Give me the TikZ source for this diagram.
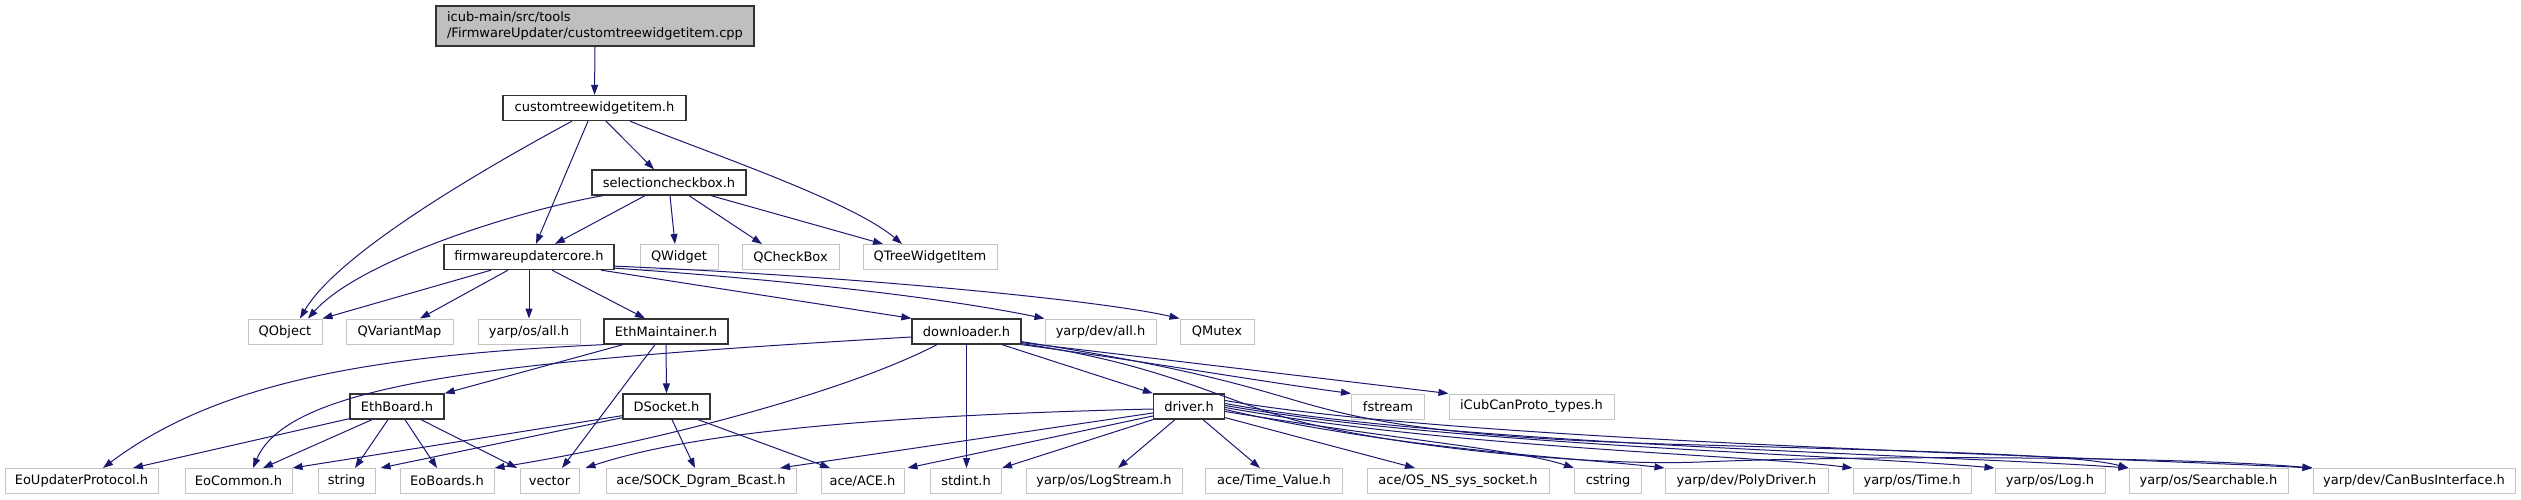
\documentclass[tikz,border=0pt]{standalone}
\usepackage{fontspec}
\setmainfont{DejaVu Sans}
\usetikzlibrary{arrows.meta}
\definecolor{edgeblue}{HTML}{191970}
\definecolor{grayline}{HTML}{C4C4C4}
\definecolor{rootgray}{HTML}{BFBFBF}
\newcommand\nodefont{\fontsize{13}{16}\selectfont}
\tikzset{
  basenode/.style={rectangle, inner sep=0pt, minimum height=25pt, font=\nodefont, text=black},
  docnode/.style={basenode, draw=black!80, line width=1.3pt, fill=white},
  udocnode/.style={basenode, draw=grayline, line width=1pt, fill=white},
  rootnode/.style={basenode, draw=black!80, line width=1.3pt, fill=rootgray, minimum height=40pt, align=left},
  dep/.style={draw=edgeblue, line width=1pt, -{Triangle[length=10pt,width=7pt]}},
}
\begin{document}
\begin{tikzpicture}[x=1pt,y=-1pt]
\useasboundingbox (0,0) rectangle (2521,500);
% rows
\node[rootnode, minimum width=318pt] (root) at (595,26) {icub-main/src/tools\\/FirmwareUpdater/customtreewidgetitem.cpp};
\node[docnode, minimum width=183pt] (cti) at (594.5,108) {customtreewidgetitem.h};
\node[docnode, minimum width=154pt] (scb) at (669,182.5) {selectioncheckbox.h};
\node[docnode, minimum width=170pt] (fuc) at (529,257) {firmwareupdatercore.h};
\node[udocnode, minimum width=78pt] (qwidget) at (679,257) {QWidget};
\node[udocnode, minimum width=97pt] (qcheck) at (790.5,257) {QCheckBox};
\node[udocnode, minimum width=134pt] (qtree) at (930,257) {QTreeWidgetItem};
\node[udocnode, minimum width=74pt] (qobject) at (285,331.5) {QObject};
\node[udocnode, minimum width=107pt] (qvmap) at (399.5,331.5) {QVariantMap};
\node[udocnode, minimum width=102pt] (yosall) at (529,331.5) {yarp/os/all.h};
\node[docnode, minimum width=124pt] (ethm) at (666,331.5) {EthMaintainer.h};
\node[docnode, minimum width=109pt] (dl) at (966.5,331.5) {downloader.h};
\node[udocnode, minimum width=111pt] (ydevall) at (1100.5,331.5) {yarp/dev/all.h};
\node[udocnode, minimum width=74pt] (qmutex) at (1217,331.5) {QMutex};
\node[docnode, minimum width=94pt] (ethb) at (397,406.5) {EthBoard.h};
\node[docnode, minimum width=87pt] (dsock) at (666.5,406.5) {DSocket.h};
\node[docnode, minimum width=71pt] (drv) at (1189,406.5) {driver.h};
\node[udocnode, minimum width=73pt] (fstream) at (1388,406.5) {fstream};
\node[udocnode, minimum width=165pt] (icub) at (1531.5,406.5) {iCubCanProto\_types.h};
\node[udocnode, minimum width=153pt] (eoup) at (81.5,481) {EoUpdaterProtocol.h};
\node[udocnode, minimum width=107pt] (eocom) at (238.5,481) {EoCommon.h};
\node[udocnode, minimum width=57pt] (string) at (346.5,481) {string};
\node[udocnode, minimum width=94pt] (eoboards) at (447,481) {EoBoards.h};
\node[udocnode, minimum width=59pt] (vector) at (549.5,481) {vector};
\node[udocnode, minimum width=190pt] (sock) at (701,481) {ace/SOCK\_Dgram\_Bcast.h};
\node[udocnode, minimum width=83pt] (ace) at (862.5,481) {ace/ACE.h};
\node[udocnode, minimum width=71pt] (stdint) at (966,481) {stdint.h};
\node[udocnode, minimum width=156pt] (logstream) at (1104,481) {yarp/os/LogStream.h};
\node[udocnode, minimum width=137pt] (timeval) at (1274,481) {ace/Time\_Value.h};
\node[udocnode, minimum width=182pt] (osns) at (1458,481) {ace/OS\_NS\_sys\_socket.h};
\node[udocnode, minimum width=67pt] (cstring) at (1608,481) {cstring};
\node[udocnode, minimum width=163pt] (poly) at (1746.5,481) {yarp/dev/PolyDriver.h};
\node[udocnode, minimum width=118pt] (ytime) at (1912,481) {yarp/os/Time.h};
\node[udocnode, minimum width=110pt] (ylog) at (2050,481) {yarp/os/Log.h};
\node[udocnode, minimum width=159pt] (search) at (2208.5,481) {yarp/os/Searchable.h};
\node[udocnode, minimum width=202pt] (canbus) at (2414,481) {yarp/dev/CanBusInterface.h};

% root / customtreewidgetitem
\draw[dep] (root.south) -- (cti.north);
\draw[dep] ([xshift=-22.5pt]cti.south) .. controls (500,160) and (340,250) .. ([xshift=15pt]qobject.north);
\draw[dep] ([xshift=-6.5pt]cti.south) -- ([xshift=7pt]fuc.north);
\draw[dep] ([xshift=11.5pt]cti.south) -- ([xshift=-15pt]scb.north);
\draw[dep] ([xshift=35.5pt]cti.south) .. controls (700,150) and (850,200) .. ([xshift=-28pt]qtree.north);
% selectioncheckbox
\draw[dep] ([xshift=-66pt]scb.south) .. controls (520,210) and (360,260) .. ([xshift=23pt]qobject.north);
\draw[dep] ([xshift=-24pt]scb.south) -- ([xshift=26pt]fuc.north);
\draw[dep] ([xshift=1pt]scb.south) -- ([xshift=-4pt]qwidget.north);
\draw[dep] ([xshift=20pt]scb.south) -- ([xshift=-28.5pt]qcheck.north);
\draw[dep] ([xshift=42pt]scb.south) -- ([xshift=-47pt]qtree.north);
% firmwareupdatercore
\draw[dep] ([xshift=-38pt]fuc.south) -- (qobject.north east);
\draw[dep] ([xshift=-21pt]fuc.south) -- ([xshift=20.5pt]qvmap.north);
\draw[dep] (fuc.south) -- (yosall.north);
\draw[dep] ([xshift=23pt]fuc.south) -- ([xshift=-21pt]ethm.north);
\draw[dep] ([xshift=72pt]fuc.south) -- (dl.north west);
\draw[dep] ([yshift=2pt]fuc.south east) .. controls (760,278) and (930,295) .. (ydevall.north west);
\draw[dep] ([yshift=4pt]fuc.south east) .. controls (850,276) and (1100,300) .. (qmutex.north west);
% EthMaintainer
\draw[dep] (ethm.south west) .. controls (380,355) and (220,380) .. ([xshift=21.5pt]eoup.north);
\draw[dep] ([xshift=-43pt]ethm.south) -- (ethb.north east);
\draw[dep] ([xshift=-11pt]ethm.south) -- ([xshift=12.5pt]vector.north);
\draw[dep] (ethm.south) -- (dsock.north);
% downloader
\draw[dep] ([yshift=-5.5pt]dl.west) .. controls (520,360) and (290,380) .. ([xshift=14.5pt]eocom.north);
\draw[dep] ([xshift=-29.5pt]dl.south) .. controls (840,395) and (640,445) .. (eoboards.north east);
\draw[dep] (dl.south) -- (dl.south |- stdint.north);
\draw[dep] ([xshift=35.5pt]dl.south) -- (drv.north west);
\draw[dep] (dl.south east) .. controls (1150,362) and (1250,380) .. (fstream.north west);
\draw[dep] ([yshift=2pt]dl.south east) -- (icub.north west);
\draw[dep] ([yshift=1pt]dl.south east) .. controls (1170,365) and (1230,405) .. (1310,424)
   .. controls (1420,450) and (1600,466) .. (1700,462) .. controls (1900,454) and (2200,458) .. (canbus.north west);
\draw[dep] ([yshift=3pt]dl.south east) .. controls (1220,372) and (1270,395) .. (1330,410)
   .. controls (1400,428) and (1500,440) .. (1700,445) .. controls (1950,452) and (2080,455) .. (search.north west);
% EthBoard
\draw[dep] ([yshift=1pt]ethb.south west) -- ([xshift=51.5pt]eoup.north);
\draw[dep] ([xshift=-25pt]ethb.south) -- ([xshift=24.5pt]eocom.north);
\draw[dep] ([xshift=-9pt]ethb.south) -- ([xshift=8.5pt]string.north);
\draw[dep] ([xshift=8pt]ethb.south) -- ([xshift=-10pt]eoboards.north);
\draw[dep] ([xshift=24pt]ethb.south) -- ([xshift=-32.5pt]vector.north);
% DSocket
\draw[dep] ([yshift=4pt]dsock.south west) -- (eocom.north east);
\draw[dep] ([yshift=2pt]dsock.south west) -- ([xshift=5pt]string.north east);
\draw[dep] ([xshift=5.5pt]dsock.south) -- ([xshift=-6pt]sock.north);
\draw[dep] ([xshift=31.5pt]dsock.south) -- ([xshift=-32.5pt]ace.north);
% driver
\draw[dep] ([yshift=-2.5pt]drv.west) .. controls (900,415) and (700,430) .. ([xshift=6pt]vector.north east);
\draw[dep] ([yshift=-6.5pt]drv.west) -- ([xshift=79pt]sock.north);
\draw[dep] ([yshift=-9.5pt]drv.west) -- ([xshift=3pt]ace.north east);
\draw[dep] (drv.south west) -- (stdint.north east);
\draw[dep] ([xshift=-14pt]drv.south) -- ([xshift=14pt]logstream.north);
\draw[dep] ([xshift=14pt]drv.south) -- ([xshift=-14pt]timeval.north);
\draw[dep] ([yshift=2pt]drv.south east) -- ([xshift=-43pt]osns.north);
\draw[dep] ([yshift=-5pt]drv.east) .. controls (1400,440) and (1520,450) .. (cstring.north west);
\draw[dep] ([yshift=-3pt]drv.east) .. controls (1400,450) and (1580,458) .. (poly.north west);
\draw[dep] ([yshift=-1pt]drv.east) .. controls (1450,448) and (1750,455) .. (ytime.north west);
\draw[dep] ([yshift=1pt]drv.east) .. controls (1450,445) and (1850,455) .. (ylog.north west);
\draw[dep] ([yshift=3pt]drv.east) .. controls (1450,445) and (1950,455) .. (search.north west);
\draw[dep] ([yshift=6pt]drv.east) .. controls (1450,440) and (2050,455) .. (canbus.north west);
\end{tikzpicture}
\end{document}
